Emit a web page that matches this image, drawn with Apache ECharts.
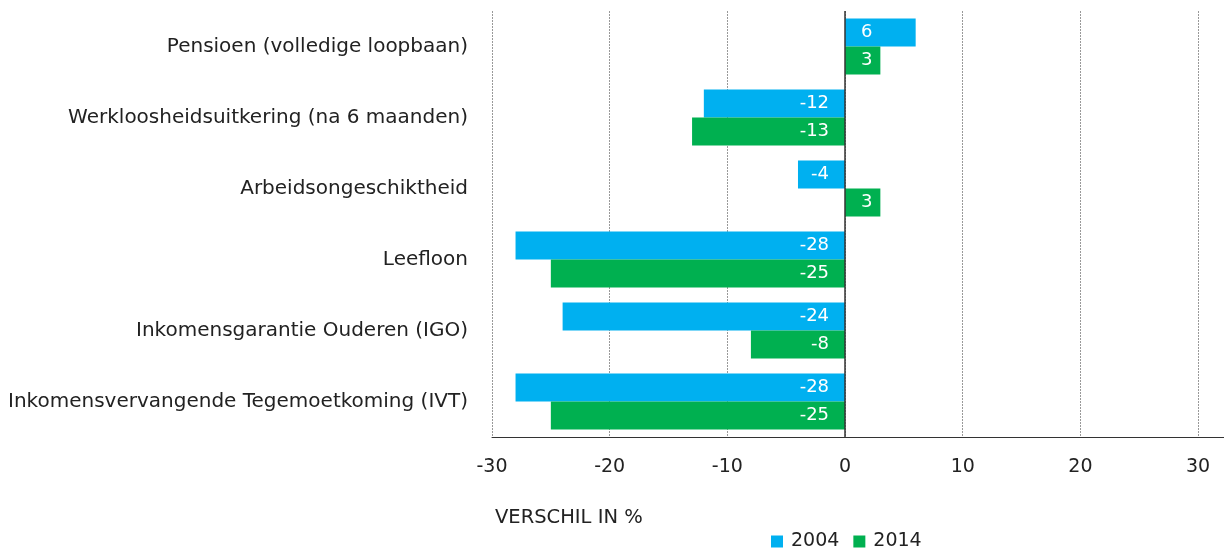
<!DOCTYPE html>
<html>
<head>
<meta charset="utf-8">
<script src="https://cdn.jsdelivr.net/npm/echarts@6/dist/echarts.min.js"></script>
<style>
  html, body { margin: 0; padding: 0; background: #fff; }
  #chart { width: 1224px; height: 548px; }
</style>
</head>
<body>
<div id="chart"></div>
<script>
const categories = [
  'Pensioen (volledige loopbaan)',
  'Werkloosheidsuitkering (na 6 maanden)',
  'Arbeidsongeschiktheid',
  'Leefloon',
  'Inkomensgarantie Ouderen (IGO)',
  'Inkomensvervangende Tegemoetkoming (IVT)'
]
const values2004 = [6, -12, -4, -28, -24, -28]
const values2014 = [3, -13, 3, -25, -8, -25]
const xTicks = [-30, -20, -10, 0, 10, 20, 30]

const FONT = '"DejaVu Sans", sans-serif'
const TEXT = '#222'

// label sits near the zero line, inside the bar
function withLabels(values) {
  return values.map((v) => ({
    value: v,
    label: v >= 0
      ? { position: 'insideLeft', distance: 16 }
      : { position: 'insideRight', distance: 16 }
  }))
}

const chart = echarts.init(document.getElementById('chart'))
chart.setOption({
  animation: false,
  textStyle: { fontFamily: FONT },
  title: {
    text: 'VERSCHIL IN %',
    left: 490,
    top: 503,
    textStyle: { fontFamily: FONT, fontSize: 19.5, fontWeight: 'normal', color: TEXT }
  },
  legend: {
    left: 766,
    top: 527,
    icon: 'rect',
    itemWidth: 12,
    itemHeight: 12,
    itemGap: 14,
    textStyle: { fontFamily: FONT, fontSize: 19, color: TEXT, padding: [0, 0, 0, 3] },
    data: ['2004', '2014']
  },
  grid: { left: 492, right: 0, top: 11, bottom: 111 },
  xAxis: {
    type: 'value',
    min: -30,
    max: 32.2,
    interval: 10,
    axisLine: { show: true, lineStyle: { color: '#333', width: 1 } },
    axisTick: { show: false },
    axisLabel: {
      margin: 21,
      fontSize: 19,
      color: TEXT,
      showMaxLabel: false,
      formatter: (v) => (xTicks.includes(v) ? String(v) : '')
    },
    splitLine: {
      show: true,
      showMaxLine: false,
      lineStyle: { color: '#999', type: [2, 1], width: 1 }
    }
  },
  yAxis: {
    type: 'category',
    inverse: true,
    data: categories,
    axisLine: { show: false },
    axisTick: { show: false },
    axisLabel: { margin: 24, fontSize: 20, color: TEXT }
  },
  series: [
    {
      name: '2004',
      type: 'bar',
      data: withLabels(values2004),
      barWidth: 28,
      barGap: '0%',
      itemStyle: { color: '#00b0f0' },
      label: { show: true, color: '#fff', fontSize: 18, fontFamily: FONT },
      markLine: {
        silent: true,
        symbol: 'none',
        label: { show: false },
        lineStyle: { color: '#333', type: 'solid', width: 1.5 },
        data: [{ xAxis: 0 }]
      }
    },
    {
      name: '2014',
      type: 'bar',
      data: withLabels(values2014),
      barWidth: 28,
      itemStyle: { color: '#00b050' },
      label: { show: true, color: '#fff', fontSize: 18, fontFamily: FONT }
    }
  ]
})
</script>
</body>
</html>
